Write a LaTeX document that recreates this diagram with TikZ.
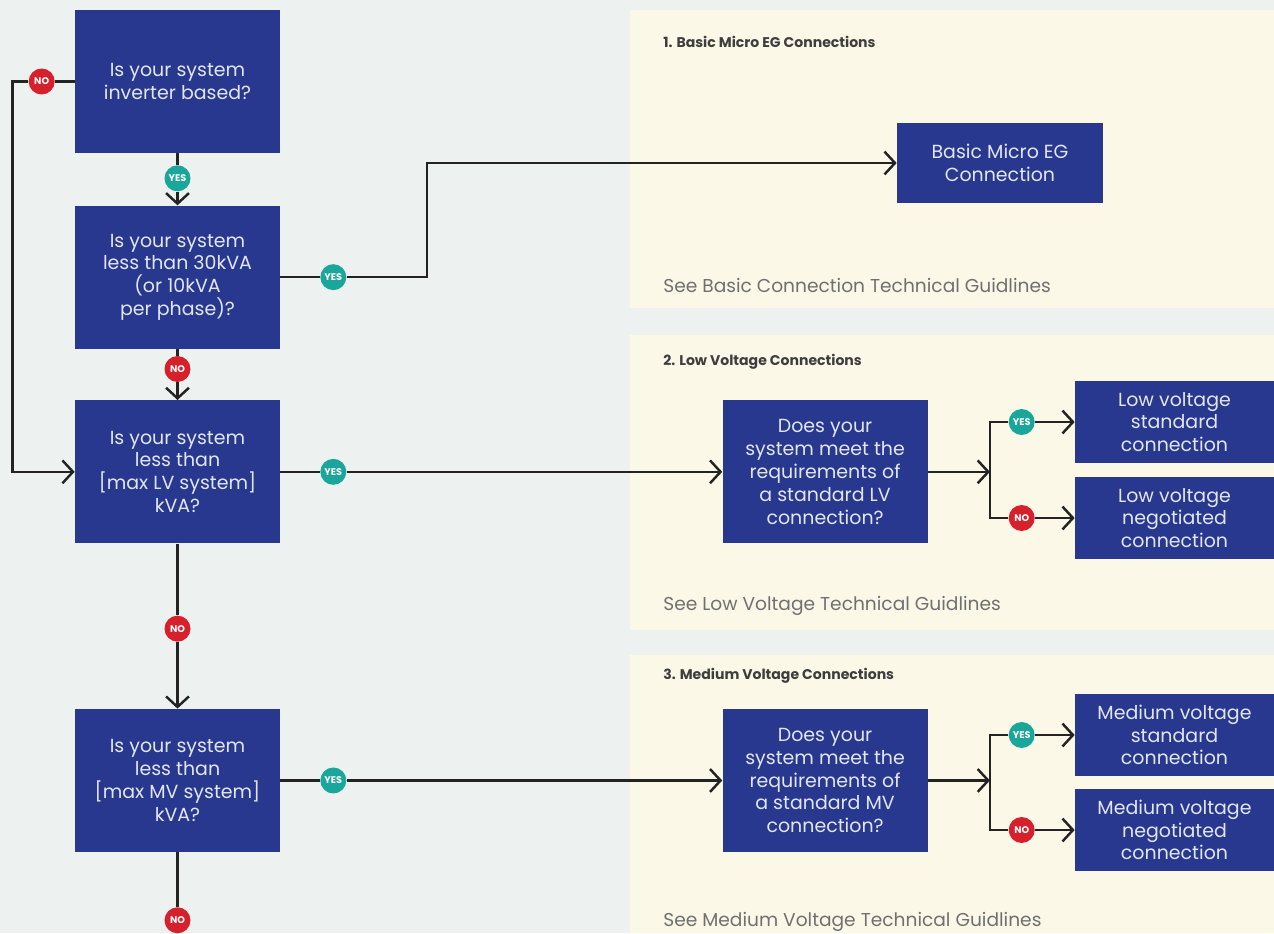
\documentclass[tikz,border=0pt]{standalone}
\usepackage{fontspec}
\setmainfont{Poppins}
\usepackage{tikz}
\usetikzlibrary{positioning}
\usetikzlibrary{arrows.meta}
\definecolor{boxblue}{RGB}{39, 56, 142}
\definecolor{boxtext}{RGB}{226, 230, 244}
\definecolor{yesgreen}{RGB}{27, 166, 156}
\definecolor{nored}{RGB}{214, 32, 44}
\definecolor{leftbg}{RGB}{237, 242, 240}
\definecolor{panelbg}{RGB}{251, 248, 231}
\definecolor{headgrey}{RGB}{62, 62, 62}
\definecolor{notegrey}{RGB}{112, 112, 112}
\definecolor{linegrey}{RGB}{35, 35, 35}
\tikzstyle{question} = [
	fill=boxblue,
	text=boxtext,
	minimum width=4.1cm,
	minimum height=2.86cm,
	align=center,
	inner sep=0pt,
	font=\fontsize{10.8}{13}\selectfont
]
\tikzstyle{result} = [
	question,
	minimum width=3.98cm,
	minimum height=1.64cm
]
\tikzstyle{yesdot} = [
	circle,
	fill=yesgreen,
	text=white,
	minimum size=0.52cm,
	inner sep=0pt,
	font=\fontsize{5.5}{6}\selectfont\bfseries
]
\tikzstyle{nodot} = [
	yesdot,
	fill=nored
]
\tikzstyle{link} = [
	draw=linegrey,
	line width=1.4pt
]
\tikzstyle{arr} = [
	link,
	-{Straight Barb[length=6pt, width=13pt]}
]
\tikzstyle{heading} = [
	anchor=west,
	inner sep=0pt,
	text=headgrey,
	font=\fontsize{8}{10}\selectfont\bfseries
]
\tikzstyle{note} = [
	anchor=west,
	inner sep=0pt,
	text=notegrey,
	font=\fontsize{10.6}{12}\selectfont
]

\begin{document}
\begin{tikzpicture}[x=0.02cm, y=-0.02cm]
	\useasboundingbox (0,0) rectangle (1274,933);

	%
	% Backgrounds
	\fill[leftbg] (0,0) rectangle (1274,933);
	\fill[panelbg] (630,10) rectangle (1274,308);
	\fill[panelbg] (630,335) rectangle (1274,630);
	\fill[panelbg] (630,655) rectangle (1274,933);

	%
	% Questions
	\node[question] (Q1) at (177.5,81.5) {Is your system\\inverter based?};
	\node[question, below=1.04cm of Q1] (Q2) {Is your system\\less than 30kVA\\(or 10kVA\\per phase)?};
	\node[question, below=1.02cm of Q2] (Q3) {Is your system\\less than\\{[}max LV system{]}\\kVA?};
	\node[question, below=3.3cm of Q3] (Q4) {Is your system\\less than\\{[}max MV system{]}\\kVA?};

	\node[question, right=8.84cm of Q3] (LVq) {Does your\\system meet the\\requirements of\\a standard LV\\connection?};
	\node[question, right=8.84cm of Q4] (MVq) {Does your\\system meet the\\requirements of\\a standard MV\\connection?};

	%
	% Results
	\node[result, minimum width=4.12cm, minimum height=1.62cm] (basic) at (1000,163) {Basic Micro EG\\Connection};
	\node[result] (LVstd) at (1174.5,422) {Low voltage\\standard\\connection};
	\node[result] (LVneg) at (1174.5,518) {Low voltage\\negotiated\\connection};
	\node[result] (MVstd) at (1174.5,735) {Medium voltage\\standard\\connection};
	\node[result] (MVneg) at (1174.5,830) {Medium voltage\\negotiated\\connection};

	%
	% Panel texts
	\node[heading] (head1) at (663,42) {1. Basic Micro EG Connections};
	\node[note] (note1) at (663,285) {See Basic Connection Technical Guidlines};
	\node[heading] (head2) at (663,362) {2. Low Voltage Connections};
	\node[note] (note2) at (663,606) {See Low Voltage Technical Guidlines};
	\node[heading] (head3) at (663,676) {3. Medium Voltage Connections};
	\node[note] (note3) at (663,922) {See Medium Voltage Technical Guidlines};

	%
	% Badges
	\node[yesdot] (yes1) at ([yshift=-0.5cm]Q1.south) {YES};
	\node[nodot] (no1) at ([xshift=-0.66cm]Q1.west) {NO};
	\node[yesdot] (yes2) at ([xshift=1.06cm]Q2.east) {YES};
	\node[nodot] (no2) at ([yshift=-0.4cm]Q2.south) {NO};
	\node[yesdot] (yes3) at ([xshift=1.06cm]Q3.east) {YES};
	\node[nodot] (no3) at ([yshift=-1.7cm]Q3.south) {NO};
	\node[yesdot] (yes4) at ([xshift=1.06cm]Q4.east) {YES};
	\node[nodot] (no4) at ([yshift=-1.36cm]Q4.south) {NO};

	\node[yesdot] (LVyes) at ([xshift=-1.06cm]LVstd.west) {YES};
	\node[nodot] (LVno) at ([xshift=-1.06cm]LVneg.west) {NO};
	\node[yesdot] (MVyes) at ([xshift=-1.06cm]MVstd.west) {YES};
	\node[nodot] (MVno) at ([xshift=-1.06cm]MVneg.west) {NO};

	\coordinate (loopL) at ([xshift=-1.24cm]Q3.west);
	\coordinate (LVfork) at ([xshift=1.24cm]LVq.east);
	\coordinate (MVfork) at ([xshift=1.24cm]MVq.east);
	\coordinate (exitMV) at ([yshift=-2cm]Q4.south);

	%
	% Arrows

	% down the left column
	\draw[link] (Q1.south) -- (yes1);
	\draw[arr] (yes1) -- (Q2.north);
	\draw[link] (Q2.south) -- (no2);
	\draw[arr] (no2) -- (Q3.north);
	\draw[link] (Q3.south) -- (no3);
	\draw[arr] (no3) -- (Q4.north);
	\draw[link] (Q4.south) -- (no4);
	\draw[link] (no4) -- (exitMV);

	% not inverter based
	\draw[link] (Q1.west) -- (no1);
	\draw[arr] (no1) -| (loopL) -- (Q3.west);

	% to the panels
	\draw[link] (Q2.east) -- (yes2);
	\draw[arr] (yes2) -| ([xshift=-9.4cm]basic.west) -- (basic.west);
	\draw[link] (Q3.east) -- (yes3);
	\draw[arr] (yes3) -- (LVq.west);
	\draw[link] (Q4.east) -- (yes4);
	\draw[arr] (yes4) -- (MVq.west);

	% LV fork
	\draw[arr] (LVq.east) -- (LVfork);
	\draw[link] (LVyes) -| (LVfork) |- (LVno);
	\draw[arr] (LVyes) -- (LVstd.west |- LVyes);
	\draw[arr] (LVno) -- (LVneg.west |- LVno);

	% MV fork
	\draw[arr] (MVq.east) -- (MVfork);
	\draw[link] (MVyes) -| (MVfork) |- (MVno);
	\draw[arr] (MVyes) -- (MVstd.west |- MVyes);
	\draw[arr] (MVno) -- (MVneg.west |- MVno);

\end{tikzpicture}
\end{document}
